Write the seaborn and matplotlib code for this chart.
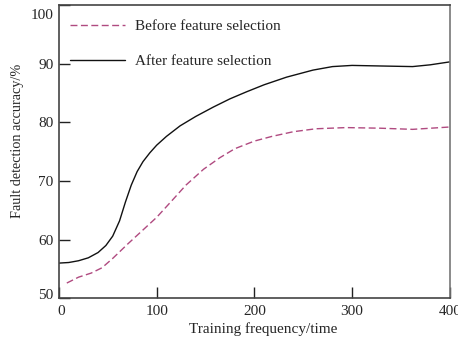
import matplotlib
matplotlib.use("Agg")
import matplotlib.pyplot as plt
import matplotlib.transforms as mtransforms
import seaborn as sns
import pandas as pd

# Training frequency (x) and fault detection accuracy (%) for both settings
after_x = [0, 10, 20, 30, 40, 48, 55, 62, 68, 74, 80, 86, 93, 100, 110, 124, 140, 158,
           175, 192, 210, 233, 260, 280, 300, 330, 362, 380, 400]
after_y = [56.0, 56.1, 56.4, 56.9, 57.8, 59.0, 60.6, 63.2, 66.4, 69.3, 71.6, 73.3, 74.8,
           76.1, 77.6, 79.4, 81.0, 82.6, 84.0, 85.2, 86.4, 87.7, 88.9, 89.5, 89.7, 89.6,
           89.5, 89.8, 90.3]

before_x = [8, 20, 33, 44, 55, 70, 85, 100, 117, 130, 148, 165, 180, 200, 218, 240, 263,
            294, 328, 362, 400]
before_y = [52.6, 53.6, 54.3, 55.2, 56.8, 59.2, 61.5, 63.8, 66.9, 69.3, 72.0, 74.0, 75.5,
            76.8, 77.6, 78.4, 78.9, 79.1, 79.0, 78.8, 79.2]

series_names = ["Before feature selection", "After feature selection"]
x_ticks = [0, 100, 200, 300, 400]
y_ticks = [50, 60, 70, 80, 90, 100]

df = pd.concat([
    pd.DataFrame({"x": before_x, "y": before_y, "Method": series_names[0]}),
    pd.DataFrame({"x": after_x, "y": after_y, "Method": series_names[1]}),
], ignore_index=True)

sns.set_theme(style="ticks")
plt.rcParams["font.family"] = ["Liberation Serif", "DejaVu Serif"]
plt.rcParams["font.size"] = 11

fig = plt.figure(figsize=(4.58, 3.42), dpi=100)
ax = fig.add_axes([0.1288, 0.1278, 0.8531, 0.8576])

sns.lineplot(
    data=df, x="x", y="y", hue="Method", style="Method",
    hue_order=series_names, style_order=series_names,
    palette={series_names[0]: "#b04a80", series_names[1]: "#111111"},
    dashes={series_names[0]: (5, 2.5), series_names[1]: ""},
    linewidth=1.0, ax=ax, sort=False,
)

ax.set_xlim(0, 400)
ax.set_ylim(50, 100)
ax.set_xticks(x_ticks)
ax.set_yticks(y_ticks)
ax.set_xticklabels([str(t) for t in x_ticks], fontsize=11)
ax.set_yticklabels([str(t) for t in y_ticks], fontsize=11)
ax.tick_params(direction="in", length=8, width=1.0, color="#222222", pad=4)
ax.tick_params(axis="x", pad=4.5)

# nudge the end labels the way the printed axis places them
ylabels = ax.get_yticklabels()
ylabels[-1].set_transform(ylabels[-1].get_transform()
                          + mtransforms.ScaledTranslation(0, -9 / 100, fig.dpi_scale_trans))
ylabels[0].set_transform(ylabels[0].get_transform()
                         + mtransforms.ScaledTranslation(0, 4 / 100, fig.dpi_scale_trans))
xlabels = ax.get_xticklabels()
xlabels[0].set_transform(xlabels[0].get_transform()
                         + mtransforms.ScaledTranslation(2 / 100, 0, fig.dpi_scale_trans))

for side in ["left", "bottom", "top"]:
    ax.spines[side].set_linewidth(1.2)
    ax.spines[side].set_color("#444444")
ax.spines["right"].set_linewidth(1.2)
ax.spines["right"].set_color("#777777")

ax.set_xlabel("Training frequency/time", fontsize=11)
ax.set_ylabel("Fault detection accuracy/%", fontsize=10.3)
ax.xaxis.set_label_coords(0.522, -0.082)
ax.yaxis.set_label_coords(-0.09, 0.536)

leg = ax.legend(
    loc="upper left", bbox_to_anchor=(0.012, 0.972), frameon=False,
    handlelength=3.6, handletextpad=0.65, labelspacing=1.4, fontsize=11,
    borderaxespad=0,
)

fig.savefig("out.png", dpi=100)
